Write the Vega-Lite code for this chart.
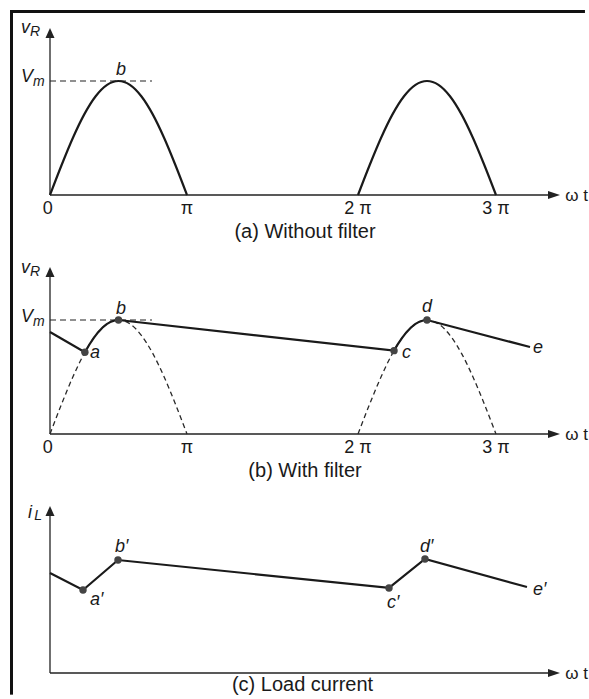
{
  "$schema": "https://vega.github.io/schema/vega-lite/v6.json",
  "background": "white",
  "padding": 0,
  "bounds": "flush",
  "spacing": {"row": 20},
  "data": {
    "values": [
      {"panel": "a", "kind": "border", "x": -0.917, "y": 1.61, "x2": 11.45, "y2": 1.61},
      {"panel": "a", "kind": "border", "x": -0.883, "y": 1.623, "x2": -0.883, "y2": -0.5},
      {"panel": "b", "kind": "border", "x": -0.883, "y": 1.72, "x2": -0.883, "y2": -0.5},
      {"panel": "c", "kind": "border", "x": -0.883, "y": 1.72, "x2": -0.883, "y2": -0.19},

      {"panel": "a", "kind": "axis", "x": 0, "y": 0, "x2": 0, "y2": 1.42},
      {"panel": "a", "kind": "axis", "x": 0, "y": 0, "x2": 10.745, "y2": 0},
      {"panel": "b", "kind": "axis", "x": 0, "y": 0, "x2": 0, "y2": 1.42},
      {"panel": "b", "kind": "axis", "x": 0, "y": 0, "x2": 10.745, "y2": 0},
      {"panel": "c", "kind": "axis", "x": 0, "y": 0, "x2": 0, "y2": 1.42},
      {"panel": "c", "kind": "axis", "x": 0, "y": 0, "x2": 10.745, "y2": 0},
      {"panel": "a", "kind": "up", "x": 0, "y": 1.421},
      {"panel": "b", "kind": "up", "x": 0, "y": 1.421},
      {"panel": "c", "kind": "up", "x": 0, "y": 1.421},
      {"panel": "a", "kind": "right", "x": 10.745, "y": 0},
      {"panel": "b", "kind": "right", "x": 10.745, "y": 0},
      {"panel": "c", "kind": "right", "x": 10.745, "y": 0},

      {"panel": "a", "kind": "vm", "x": 0, "y": 1, "x2": 2.339, "y2": 1},
      {"panel": "b", "kind": "vm", "x": 0, "y": 1, "x2": 2.339, "y2": 1},

      {"panel": "a", "kind": "hump", "seg": "h1", "x": 0, "y": 0},
      {"panel": "a", "kind": "hump", "seg": "h1", "x": 0.2618, "y": 0.2588},
      {"panel": "a", "kind": "hump", "seg": "h1", "x": 0.5236, "y": 0.5},
      {"panel": "a", "kind": "hump", "seg": "h1", "x": 0.7854, "y": 0.7071},
      {"panel": "a", "kind": "hump", "seg": "h1", "x": 1.0472, "y": 0.866},
      {"panel": "a", "kind": "hump", "seg": "h1", "x": 1.309, "y": 0.9659},
      {"panel": "a", "kind": "hump", "seg": "h1", "x": 1.5708, "y": 1},
      {"panel": "a", "kind": "hump", "seg": "h1", "x": 1.8326, "y": 0.9659},
      {"panel": "a", "kind": "hump", "seg": "h1", "x": 2.0944, "y": 0.866},
      {"panel": "a", "kind": "hump", "seg": "h1", "x": 2.3562, "y": 0.7071},
      {"panel": "a", "kind": "hump", "seg": "h1", "x": 2.618, "y": 0.5},
      {"panel": "a", "kind": "hump", "seg": "h1", "x": 2.8798, "y": 0.2588},
      {"panel": "a", "kind": "hump", "seg": "h1", "x": 3.1416, "y": 0},
      {"panel": "a", "kind": "hump", "seg": "h2", "x": 6.2832, "y": 0},
      {"panel": "a", "kind": "hump", "seg": "h2", "x": 6.545, "y": 0.2588},
      {"panel": "a", "kind": "hump", "seg": "h2", "x": 6.8068, "y": 0.5},
      {"panel": "a", "kind": "hump", "seg": "h2", "x": 7.0686, "y": 0.7071},
      {"panel": "a", "kind": "hump", "seg": "h2", "x": 7.3304, "y": 0.866},
      {"panel": "a", "kind": "hump", "seg": "h2", "x": 7.5922, "y": 0.9659},
      {"panel": "a", "kind": "hump", "seg": "h2", "x": 7.854, "y": 1},
      {"panel": "a", "kind": "hump", "seg": "h2", "x": 8.1158, "y": 0.9659},
      {"panel": "a", "kind": "hump", "seg": "h2", "x": 8.3776, "y": 0.866},
      {"panel": "a", "kind": "hump", "seg": "h2", "x": 8.6394, "y": 0.7071},
      {"panel": "a", "kind": "hump", "seg": "h2", "x": 8.9012, "y": 0.5},
      {"panel": "a", "kind": "hump", "seg": "h2", "x": 9.163, "y": 0.2588},
      {"panel": "a", "kind": "hump", "seg": "h2", "x": 9.4248, "y": 0},

      {"panel": "b", "kind": "dhump", "seg": "h1", "x": 0, "y": 0},
      {"panel": "b", "kind": "dhump", "seg": "h1", "x": 0.2618, "y": 0.2588},
      {"panel": "b", "kind": "dhump", "seg": "h1", "x": 0.5236, "y": 0.5},
      {"panel": "b", "kind": "dhump", "seg": "h1", "x": 0.7854, "y": 0.7071},
      {"panel": "b", "kind": "dhump", "seg": "h1", "x": 1.0472, "y": 0.866},
      {"panel": "b", "kind": "dhump", "seg": "h1", "x": 1.309, "y": 0.9659},
      {"panel": "b", "kind": "dhump", "seg": "h1", "x": 1.5708, "y": 1},
      {"panel": "b", "kind": "dhump", "seg": "h1", "x": 1.8326, "y": 0.9659},
      {"panel": "b", "kind": "dhump", "seg": "h1", "x": 2.0944, "y": 0.866},
      {"panel": "b", "kind": "dhump", "seg": "h1", "x": 2.3562, "y": 0.7071},
      {"panel": "b", "kind": "dhump", "seg": "h1", "x": 2.618, "y": 0.5},
      {"panel": "b", "kind": "dhump", "seg": "h1", "x": 2.8798, "y": 0.2588},
      {"panel": "b", "kind": "dhump", "seg": "h1", "x": 3.1416, "y": 0},
      {"panel": "b", "kind": "dhump", "seg": "h2", "x": 6.2832, "y": 0},
      {"panel": "b", "kind": "dhump", "seg": "h2", "x": 6.545, "y": 0.2588},
      {"panel": "b", "kind": "dhump", "seg": "h2", "x": 6.8068, "y": 0.5},
      {"panel": "b", "kind": "dhump", "seg": "h2", "x": 7.0686, "y": 0.7071},
      {"panel": "b", "kind": "dhump", "seg": "h2", "x": 7.3304, "y": 0.866},
      {"panel": "b", "kind": "dhump", "seg": "h2", "x": 7.5922, "y": 0.9659},
      {"panel": "b", "kind": "dhump", "seg": "h2", "x": 7.854, "y": 1},
      {"panel": "b", "kind": "dhump", "seg": "h2", "x": 8.1158, "y": 0.9659},
      {"panel": "b", "kind": "dhump", "seg": "h2", "x": 8.3776, "y": 0.866},
      {"panel": "b", "kind": "dhump", "seg": "h2", "x": 8.6394, "y": 0.7071},
      {"panel": "b", "kind": "dhump", "seg": "h2", "x": 8.9012, "y": 0.5},
      {"panel": "b", "kind": "dhump", "seg": "h2", "x": 9.163, "y": 0.2588},
      {"panel": "b", "kind": "dhump", "seg": "h2", "x": 9.4248, "y": 0},

      {"panel": "b", "kind": "trace", "x": 0, "y": 0.895},
      {"panel": "b", "kind": "trace", "x": 0.8, "y": 0.7174},
      {"panel": "b", "kind": "trace", "x": 0.9, "y": 0.7833},
      {"panel": "b", "kind": "trace", "x": 1.0, "y": 0.8415},
      {"panel": "b", "kind": "trace", "x": 1.1, "y": 0.8912},
      {"panel": "b", "kind": "trace", "x": 1.2, "y": 0.932},
      {"panel": "b", "kind": "trace", "x": 1.3, "y": 0.9636},
      {"panel": "b", "kind": "trace", "x": 1.4, "y": 0.9854},
      {"panel": "b", "kind": "trace", "x": 1.5, "y": 0.9975},
      {"panel": "b", "kind": "trace", "x": 1.5708, "y": 1},
      {"panel": "b", "kind": "trace", "x": 7.1032, "y": 0.7311},
      {"panel": "b", "kind": "trace", "x": 7.1832, "y": 0.7833},
      {"panel": "b", "kind": "trace", "x": 7.2832, "y": 0.8415},
      {"panel": "b", "kind": "trace", "x": 7.3832, "y": 0.8912},
      {"panel": "b", "kind": "trace", "x": 7.4832, "y": 0.932},
      {"panel": "b", "kind": "trace", "x": 7.5832, "y": 0.9636},
      {"panel": "b", "kind": "trace", "x": 7.6832, "y": 0.9854},
      {"panel": "b", "kind": "trace", "x": 7.7832, "y": 0.9975},
      {"panel": "b", "kind": "trace", "x": 7.854, "y": 1},
      {"panel": "b", "kind": "trace", "x": 10.199, "y": 0.763},

      {"panel": "c", "kind": "trace", "x": 0, "y": 0.877},
      {"panel": "c", "kind": "trace", "x": 0.757, "y": 0.728},
      {"panel": "c", "kind": "trace", "x": 1.559, "y": 0.991},
      {"panel": "c", "kind": "trace", "x": 6.989, "y": 0.746},
      {"panel": "c", "kind": "trace", "x": 7.808, "y": 1.0},
      {"panel": "c", "kind": "trace", "x": 10.13, "y": 0.754},

      {"panel": "b", "kind": "dot", "x": 0.8, "y": 0.7174},
      {"panel": "b", "kind": "dot", "x": 1.5708, "y": 1},
      {"panel": "b", "kind": "dot", "x": 7.1032, "y": 0.7311},
      {"panel": "b", "kind": "dot", "x": 7.854, "y": 1},
      {"panel": "c", "kind": "dot", "x": 0.757, "y": 0.728},
      {"panel": "c", "kind": "dot", "x": 1.559, "y": 0.991},
      {"panel": "c", "kind": "dot", "x": 6.989, "y": 0.746},
      {"panel": "c", "kind": "dot", "x": 7.808, "y": 1.0},

      {"panel": "a", "kind": "lab", "text": "v", "x": -0.665, "y": 1.421},
      {"panel": "a", "kind": "lab", "text": "V", "x": -0.665, "y": 0.991},
      {"panel": "a", "kind": "lab", "text": "b", "x": 1.513, "y": 1.053},
      {"panel": "a", "kind": "sub", "text": "R", "x": -0.459, "y": 1.395},
      {"panel": "a", "kind": "sub", "text": "m", "x": -0.39, "y": 0.956},

      {"panel": "b", "kind": "lab", "text": "v", "x": -0.665, "y": 1.412},
      {"panel": "b", "kind": "lab", "text": "V", "x": -0.665, "y": 0.982},
      {"panel": "b", "kind": "lab", "text": "a", "x": 0.917, "y": 0.667},
      {"panel": "b", "kind": "lab", "text": "b", "x": 1.513, "y": 1.053},
      {"panel": "b", "kind": "lab", "text": "c", "x": 7.285, "y": 0.667},
      {"panel": "b", "kind": "lab", "text": "d", "x": 7.74, "y": 1.07},
      {"panel": "b", "kind": "lab", "text": "e", "x": 10.267, "y": 0.711},
      {"panel": "b", "kind": "sub", "text": "R", "x": -0.459, "y": 1.386},
      {"panel": "b", "kind": "sub", "text": "m", "x": -0.39, "y": 0.947},

      {"panel": "c", "kind": "lab", "text": "i", "x": -0.504, "y": 1.36},
      {"panel": "c", "kind": "lab", "text": "a′", "x": 0.917, "y": 0.596},
      {"panel": "c", "kind": "lab", "text": "b′", "x": 1.49, "y": 1.061},
      {"panel": "c", "kind": "lab", "text": "c′", "x": 6.943, "y": 0.57},
      {"panel": "c", "kind": "lab", "text": "d′", "x": 7.694, "y": 1.061},
      {"panel": "c", "kind": "lab", "text": "e′", "x": 10.267, "y": 0.684},
      {"panel": "c", "kind": "sub", "text": "L", "x": -0.36, "y": 1.342},

      {"panel": "a", "kind": "tick", "text": "0", "x": -0.05, "y": -0.165},
      {"panel": "a", "kind": "tick", "text": "π", "x": 3.1416, "y": -0.165},
      {"panel": "a", "kind": "tick", "text": "2 π", "x": 6.2832, "y": -0.165},
      {"panel": "a", "kind": "tick", "text": "3 π", "x": 9.4248, "y": -0.165},
      {"panel": "b", "kind": "tick", "text": "0", "x": -0.05, "y": -0.165},
      {"panel": "b", "kind": "tick", "text": "π", "x": 3.1416, "y": -0.165},
      {"panel": "b", "kind": "tick", "text": "2 π", "x": 6.2832, "y": -0.165},
      {"panel": "b", "kind": "tick", "text": "3 π", "x": 9.4248, "y": -0.165},

      {"panel": "a", "kind": "wt", "text": "ω t", "x": 11.0, "y": -0.05},
      {"panel": "b", "kind": "wt", "text": "ω t", "x": 11.0, "y": -0.05},
      {"panel": "c", "kind": "wt", "text": "ω t", "x": 11.0, "y": -0.05},

      {"panel": "a", "kind": "cap", "text": "(a) Without filter", "x": 5.31, "y": -0.377},
      {"panel": "b", "kind": "cap", "text": "(b) With filter", "x": 5.31, "y": -0.377},
      {"panel": "c", "kind": "cap", "text": "(c) Load current", "x": 5.264, "y": -0.16}
    ]
  },
  "facet": {
    "row": {"field": "panel", "type": "nominal", "header": {"labels": false, "title": null}}
  },
  "spec": {
    "width": 589,
    "height": 219,
    "encoding": {
      "x": {
        "field": "x",
        "type": "quantitative",
        "axis": null,
        "scale": {"domain": [0, 3.1416, 6.2832, 9.4248], "range": [50, 187, 358, 496], "nice": false, "zero": false}
      },
      "y": {
        "field": "y",
        "type": "quantitative",
        "axis": null,
        "scale": {"domain": [-0.2105, 1.7105], "nice": false, "zero": false}
      }
    },
    "layer": [
      {
        "transform": [{"filter": "datum.kind === 'border'"}],
        "mark": {"type": "rule", "strokeWidth": 3, "color": "#111111"},
        "encoding": {"x2": {"field": "x2"}, "y2": {"field": "y2"}}
      },
      {
        "transform": [{"filter": "datum.kind === 'axis'"}],
        "mark": {"type": "rule", "strokeWidth": 1.3, "color": "#222222"},
        "encoding": {"x2": {"field": "x2"}, "y2": {"field": "y2"}}
      },
      {
        "transform": [{"filter": "datum.kind === 'vm'"}],
        "mark": {"type": "rule", "strokeWidth": 1.2, "strokeDash": [6, 4], "color": "#222222"},
        "encoding": {"x2": {"field": "x2"}, "y2": {"field": "y2"}}
      },
      {
        "transform": [{"filter": "datum.kind === 'up'"}],
        "mark": {"type": "point", "shape": "M0,-1L0.9,1L-0.9,1Z", "size": 100, "filled": true, "opacity": 1, "color": "#222222"}
      },
      {
        "transform": [{"filter": "datum.kind === 'right'"}],
        "mark": {"type": "point", "shape": "M1,0L-1,0.65L-1,-0.65Z", "size": 144, "filled": true, "opacity": 1, "color": "#222222"}
      },
      {
        "transform": [{"filter": "datum.kind === 'dhump'"}],
        "mark": {"type": "line", "interpolate": "monotone", "strokeWidth": 1.3, "strokeDash": [5, 3.5], "color": "#2a2a2a"},
        "encoding": {"detail": {"field": "seg"}}
      },
      {
        "transform": [{"filter": "datum.kind === 'hump'"}],
        "mark": {"type": "line", "interpolate": "monotone", "strokeWidth": 2.2, "color": "#1a1a1a"},
        "encoding": {"detail": {"field": "seg"}}
      },
      {
        "transform": [{"filter": "datum.kind === 'trace'"}],
        "mark": {"type": "line", "interpolate": "linear", "strokeWidth": 2.2, "color": "#1a1a1a"}
      },
      {
        "transform": [{"filter": "datum.kind === 'dot'"}],
        "mark": {"type": "point", "shape": "circle", "size": 55, "filled": true, "opacity": 1, "color": "#444444"}
      },
      {
        "transform": [{"filter": "datum.kind === 'lab'"}],
        "mark": {"type": "text", "font": "Liberation Sans", "fontStyle": "italic", "fontSize": 18, "align": "left", "baseline": "alphabetic", "color": "#1a1a1a"},
        "encoding": {"text": {"field": "text"}}
      },
      {
        "transform": [{"filter": "datum.kind === 'sub'"}],
        "mark": {"type": "text", "font": "Liberation Sans", "fontStyle": "italic", "fontSize": 14, "align": "left", "baseline": "alphabetic", "color": "#1a1a1a"},
        "encoding": {"text": {"field": "text"}}
      },
      {
        "transform": [{"filter": "datum.kind === 'tick'"}],
        "mark": {"type": "text", "font": "Liberation Sans", "fontSize": 18, "align": "center", "baseline": "alphabetic", "color": "#1a1a1a"},
        "encoding": {"text": {"field": "text"}}
      },
      {
        "transform": [{"filter": "datum.kind === 'wt'"}],
        "mark": {"type": "text", "font": "Liberation Sans", "fontSize": 17, "align": "left", "baseline": "alphabetic", "color": "#1a1a1a"},
        "encoding": {"text": {"field": "text"}}
      },
      {
        "transform": [{"filter": "datum.kind === 'cap'"}],
        "mark": {"type": "text", "font": "Liberation Sans", "fontSize": 20, "align": "center", "baseline": "alphabetic", "color": "#1a1a1a"},
        "encoding": {"text": {"field": "text"}}
      }
    ]
  },
  "config": {"view": {"stroke": null}}
}
